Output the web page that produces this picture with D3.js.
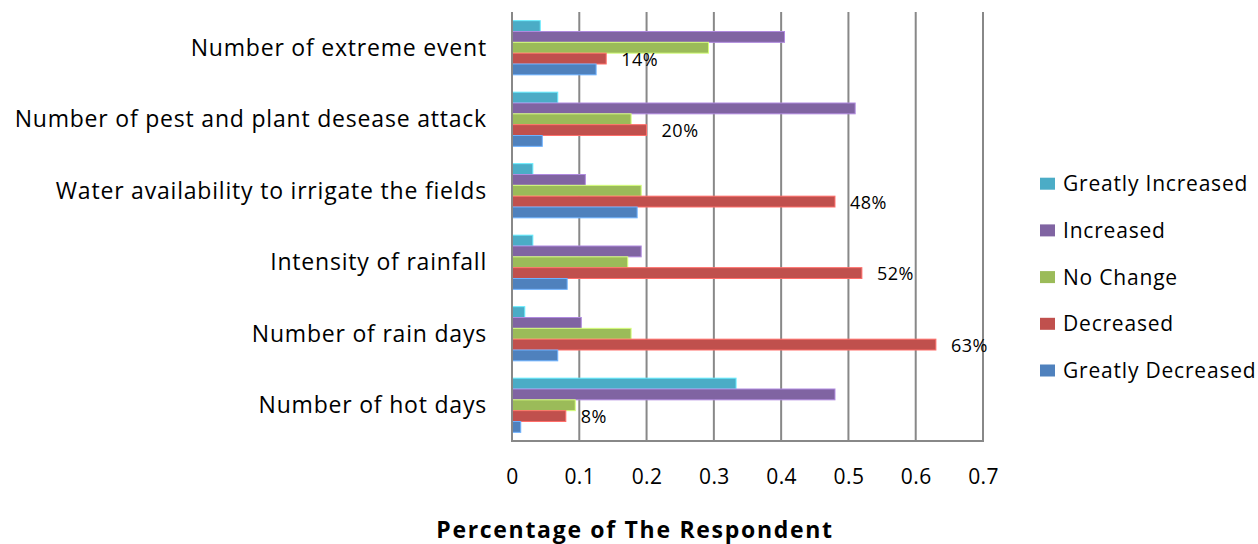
<!DOCTYPE html>
<html>
<head>
<meta charset="utf-8">
<script src="https://cdn.jsdelivr.net/npm/d3@7"></script>
<style>
  html, body { margin: 0; padding: 0; background: #ffffff; }
  svg { display: block; }
  text { font-family: "Open Sans", "Liberation Sans", sans-serif; fill: #000; }
</style>
</head>
<body>
<svg id="chart" width="1258" height="544"></svg>
<script>
// Survey questions, listed top to bottom
const categories = [
  "Number of extreme event",
  "Number of pest and plant desease attack",
  "Water availability to irrigate the fields",
  "Intensity of rainfall",
  "Number of rain days",
  "Number of hot days"
];

// Response options, drawn top to bottom within each group
const seriesNames = ["Greatly Increased", "Increased", "No Change", "Decreased", "Greatly Decreased"];

// Share of respondents per response, one value per category (same order as categories)
const greatlyIncreased = [0.042, 0.068, 0.031, 0.031, 0.019, 0.333];
const increased        = [0.405, 0.510, 0.109, 0.192, 0.103, 0.480];
const noChange         = [0.292, 0.177, 0.192, 0.172, 0.177, 0.094];
const decreased        = [0.14,  0.20,  0.48,  0.52,  0.63,  0.08];
const greatlyDecreased = [0.125, 0.045, 0.186, 0.082, 0.068, 0.013];

const seriesValues = [greatlyIncreased, increased, noChange, decreased, greatlyDecreased];
const seriesColors = ["#4BACC6", "#8064A2", "#9BBB59", "#C0504D", "#4F81BD"];

// Only the "Decreased" series carries value labels
const labelledSeries = "Decreased";

const xTicks = [0, 0.1, 0.2, 0.3, 0.4, 0.5, 0.6, 0.7];
const xTitle = "Percentage of The Respondent";

const svg = d3.select("#chart");

const plot = { left: 512, right: 983, top: 12, bottom: 441 };

const x = d3.scaleLinear().domain([0, 0.7]).range([plot.left, plot.right]);
const y = d3.scaleBand().domain(categories).range([plot.top, plot.bottom]).padding(0);
const ySub = d3.scaleBand().domain(seriesNames).range([0, y.bandwidth()])
  .paddingInner(0).paddingOuter(0.8);
const color = d3.scaleOrdinal().domain(seriesNames).range(seriesColors);

// Vertical gridlines
svg.append("g")
  .selectAll("line")
  .data(xTicks.slice(1))
  .join("line")
  .attr("x1", d => x(d)).attr("x2", d => x(d))
  .attr("y1", plot.top).attr("y2", plot.bottom)
  .attr("stroke", "#888888").attr("stroke-width", 2);

// Bars
const rows = [];
seriesNames.forEach((s, si) => {
  categories.forEach((c, ci) => rows.push({ series: s, category: c, value: seriesValues[si][ci] }));
});

svg.append("g")
  .selectAll("rect")
  .data(rows)
  .join("rect")
  .attr("x", x(0))
  .attr("y", d => y(d.category) + ySub(d.series))
  .attr("width", d => x(d.value) - x(0))
  .attr("height", ySub.bandwidth())
  .attr("fill", d => color(d.series))
  .attr("stroke", d => d3.color(color(d.series)).brighter(0.9))
  .attr("stroke-width", 1);

// Value labels on the "Decreased" bars
svg.append("g")
  .selectAll("text")
  .data(rows.filter(d => d.series === labelledSeries))
  .join("text")
  .attr("x", d => x(d.value) + 15)
  .attr("y", d => y(d.category) + ySub(d.series) + ySub.bandwidth() / 2 + 7)
  .attr("font-size", 18)
  .attr("letter-spacing", "0.5px")
  .text(d => d3.format(".0%")(d.value));

// Axis lines (left and bottom)
svg.append("line")
  .attr("x1", x(0)).attr("x2", x(0))
  .attr("y1", plot.top).attr("y2", plot.bottom + 1)
  .attr("stroke", "#888888").attr("stroke-width", 2);
svg.append("line")
  .attr("x1", x(0) - 1).attr("x2", plot.right + 1)
  .attr("y1", plot.bottom).attr("y2", plot.bottom)
  .attr("stroke", "#888888").attr("stroke-width", 2);

// Category labels
svg.append("g")
  .selectAll("text")
  .data(categories)
  .join("text")
  .attr("x", 487)
  .attr("y", d => y(d) + y.bandwidth() / 2 + 8)
  .attr("text-anchor", "end")
  .attr("font-size", 23)
  .attr("letter-spacing", "0.8px")
  .text(d => d);

// X tick labels
const xAxis = d3.axisBottom(x).tickValues(xTicks).tickFormat(d3.format("")).tickSize(0).tickPadding(0);
const gx = svg.append("g").attr("transform", `translate(0, ${plot.bottom})`).call(xAxis);
gx.select(".domain").remove();
gx.selectAll("text")
  .attr("font-family", "'Open Sans', sans-serif")
  .attr("font-size", 21)
  .attr("letter-spacing", "0.4px")
  .attr("fill", "#000")
  .attr("dy", null)
  .attr("y", 43);

// Axis title
svg.append("text")
  .attr("x", 635)
  .attr("y", 538)
  .attr("text-anchor", "middle")
  .attr("font-size", 23)
  .attr("font-weight", "bold")
  .attr("letter-spacing", "1.7px")
  .text(xTitle);

// Legend
const legend = svg.append("g")
  .selectAll("g")
  .data(seriesNames)
  .join("g")
  .attr("transform", (d, i) => `translate(1040, ${183.7 + i * 46.7})`);
legend.append("rect")
  .attr("x", 0).attr("y", -6)
  .attr("width", 15).attr("height", 12)
  .attr("fill", d => color(d));
legend.append("text")
  .attr("x", 23).attr("y", 7.5)
  .attr("font-size", 21)
  .attr("letter-spacing", "0.8px")
  .text(d => d);
</script>
</body>
</html>
